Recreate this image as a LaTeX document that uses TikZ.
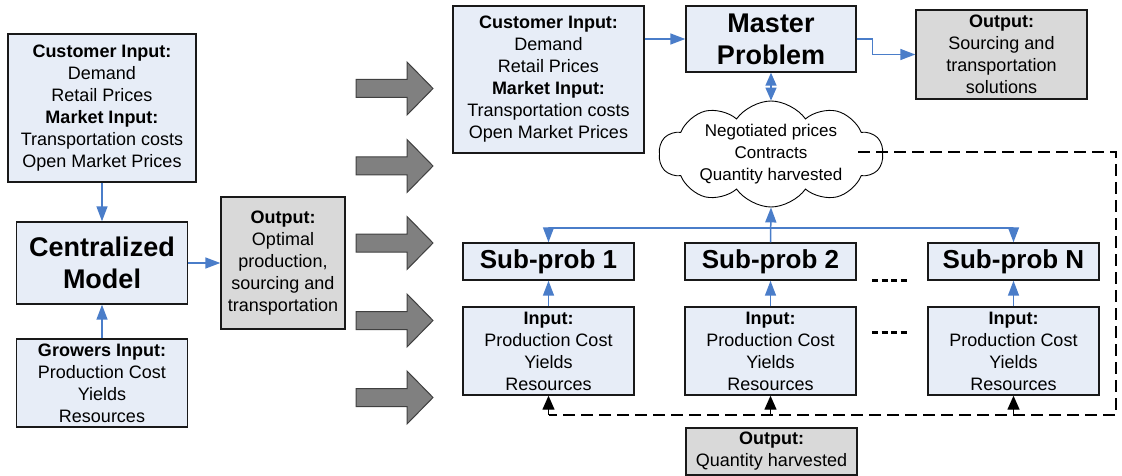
\documentclass[tikz,border=0pt]{standalone}
\usepackage{fontspec}
\setmainfont{Liberation Sans}
\usetikzlibrary{shapes.symbols,arrows.meta}
\definecolor{boxblue}{HTML}{E7EDF7}
\definecolor{boxgray}{HTML}{D9D9D9}
\definecolor{linkblue}{HTML}{4A7DC9}
\definecolor{arrowgray}{HTML}{808080}
\definecolor{arrowedge}{HTML}{404040}
\begin{document}
\begin{tikzpicture}[x=1pt,y=-1pt,
  box/.style={draw=black!90, line width=1.4pt, fill=boxblue, align=center, inner sep=0pt, font=\fontsize{18}{22}\selectfont},
  gbox/.style={box, fill=boxgray},
  titlebox/.style={box, font=\fontsize{27}{32}\selectfont\bfseries},
  subbox/.style={box, minimum width=171pt, minimum height=37pt, font=\fontsize{26}{30}\selectfont\bfseries},
  inbox/.style={box, minimum width=171pt, minimum height=88pt},
  link/.style={draw=linkblue, line width=1.5pt, -{Triangle[length=15pt,width=11pt]}},
  dlink/.style={draw=linkblue, line width=1.5pt, {Triangle[length=13pt,width=11pt]}-{Triangle[length=13pt,width=11pt]}},
  feedback/.style={draw=black, line width=1.5pt, dash pattern=on 12pt off 6pt},
  tri/.style={draw=black, line width=1.4pt, -{Triangle[length=14pt,width=12pt]}},
  dotsline/.style={draw=black, line width=3pt, dash pattern=on 6pt off 3.5pt},
  bigarrow/.style={fill=arrowgray, draw=arrowedge, line width=1pt, line join=miter}
]
\useasboundingbox (0,0) rectangle (1122,476);

% left column
\node[box, minimum width=188pt, minimum height=148pt] (cin1) at (102,108)
  {\textbf{Customer Input:}\\Demand\\Retail Prices\\\textbf{Market Input:}\\Transportation costs\\Open Market Prices};
\node[titlebox, minimum width=171pt, minimum height=82pt] (cent) at (102,263) {Centralized\\Model};
\node[box, minimum width=171pt, minimum height=88pt] (grow) at (102,383)
  {\textbf{Growers Input:}\\Production Cost\\Yields\\Resources};
\node[gbox, minimum width=124pt, minimum height=132pt] (out1) at (283,263)
  {\textbf{Output:}\\Optimal\\production,\\sourcing and\\transportation};

\draw[link] (cin1.south) -- (cent.north);
\draw[link] (grow.north) -- (cent.south);
\draw[link] (cent.east) -- (out1.west);

% big arrows
\foreach \c in {88.5,166,243,320.5,397.5}
  \draw[bigarrow] (356,\c-9) -- (407,\c-9) -- (407,\c-26.5) -- (433,\c) -- (407,\c+26.5) -- (407,\c+9) -- (356,\c+9) -- cycle;

% right part
\node[box, minimum width=191pt, minimum height=147pt] (cin2) at (548.5,79.5)
  {\textbf{Customer Input:}\\Demand\\Retail Prices\\\textbf{Market Input:}\\Transportation costs\\Open Market Prices};
\node[titlebox, minimum width=170pt, minimum height=66pt] (master) at (771,39) {Master\\Problem};
\node[gbox, minimum width=171pt, minimum height=89pt] (out2) at (1001.5,54.5)
  {\textbf{Output:}\\Sourcing and\\transportation\\solutions};
\node[cloud, draw=black, line width=0.9pt, fill=white, cloud puffs=10, cloud puff arc=110,
  cloud ignores aspect, minimum width=224pt, minimum height=106pt,
  inner xsep=-6pt, inner ysep=-16pt, align=center,
  font=\fontsize{17}{22}\selectfont] (cloud) at (771,154)
  {Negotiated prices\\Contracts\\Quantity harvested};

\node[subbox] (sub1) at (548.5,261.5) {Sub-prob 1};
\node[subbox] (sub2) at (770.5,261.5) {Sub-prob 2};
\node[subbox] (subN) at (1013.5,261.5) {Sub-prob N};
\node[inbox] (in1) at (548.5,351) {\textbf{Input:}\\Production Cost\\Yields\\Resources};
\node[inbox] (in2) at (770.5,351) {\textbf{Input:}\\Production Cost\\Yields\\Resources};
\node[inbox] (inN) at (1013.5,351) {\textbf{Input:}\\Production Cost\\Yields\\Resources};
\node[gbox, minimum width=171pt, minimum height=47pt] (out3) at (771.5,451.5)
  {\textbf{Output:}\\Quantity harvested};

\draw[link] (cin2.east |- master.west) -- (master.west);
\draw[link] (master.east) -- ++(16,0) |- (out2.west);
\draw[dlink] (master.south) -- (cloud.north);
\draw[link] (sub2.north) -- (cloud.south);
\coordinate (bus) at (770.5,228);
\draw[link] (bus) -| (sub1.north);
\draw[link] (bus) -| (subN.north);
\draw[link] (in1.north) -- (sub1.south);
\draw[link] (in2.north) -- (sub2.south);
\draw[link] (inN.north) -- (subN.south);

% dots
\draw[dotsline] (872,280) -- (907,280);
\draw[dotsline] (872,332) -- (907,332);

% feedback dashed loop
\coordinate (dstart) at (858,152);
\coordinate (dcorner1) at (1116,152);
\coordinate (dcorner2) at (1116,415);
\coordinate (d1) at (548.5,415);
\coordinate (d2) at (770.5,415);
\coordinate (dN) at (1013.5,415);
\draw[feedback] (dstart) -- (dcorner1) -- (dcorner2) -- (d1);
\draw[tri] (d1) -- (in1.south);
\draw[tri] (d2) -- (in2.south);
\draw[tri] (dN) -- (inN.south);
\end{tikzpicture}
\end{document}
